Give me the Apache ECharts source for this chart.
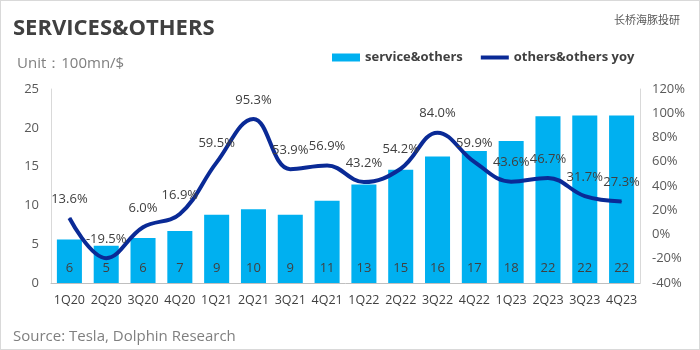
<!DOCTYPE html>
<html>
<head>
<meta charset="utf-8">
<script src="https://cdn.jsdelivr.net/npm/echarts@6/dist/echarts.min.js"></script>
<style>
  html, body { margin: 0; padding: 0; background: #fff; }
  #main { width: 698px; height: 348px; border: 1px solid #d9d9d9; }
</style>
</head>
<body>
<div id="main"></div>
<script>
// quarters
const quarters = ['1Q20', '2Q20', '3Q20', '4Q20', '1Q21', '2Q21', '3Q21', '4Q21',
  '1Q22', '2Q22', '3Q22', '4Q22', '1Q23', '2Q23', '3Q23', '4Q23'];
// service&others revenue, 100mn $
const services = [5.6, 4.8, 5.8, 6.7, 8.8, 9.5, 8.8, 10.6, 12.7, 14.6, 16.3, 17.0, 18.3, 21.5, 21.6, 21.6];
// yoy growth, %
const yoy = [13.6, -19.5, 6.0, 16.9, 59.5, 95.3, 53.9, 56.9, 43.2, 54.2, 84.0, 59.9, 43.6, 46.7, 31.7, 27.3];

const txt = '#404040';
const font = '"Open Sans", "Noto Sans", sans-serif';

const chart = echarts.init(document.getElementById('main'));
const option = {
  textStyle: { fontFamily: font },
  animation: false,
  title: [
    { text: 'SERVICES&OTHERS', left: 7, top: 12,
      textStyle: { fontSize: 22, fontWeight: 'bold', color: txt, fontFamily: font } },
    { text: 'Unit：100mn/$', left: 11, top: 50,
      textStyle: { fontSize: 15, fontWeight: 'normal', color: '#7f7f7f', fontFamily: font } },
    { text: '长桥海豚投研', right: 14, top: 8,
      textStyle: { fontSize: 11, fontWeight: 'normal', color: '#595959', fontFamily: '"Noto Sans CJK SC"' } },
    { text: 'Source: Tesla, Dolphin Research', left: 7, top: 323,
      textStyle: { fontSize: 15, fontWeight: 'normal', color: '#7f7f7f', fontFamily: font } }
  ],
  legend: {
    left: 326, top: 45,
    itemWidth: 28, itemHeight: 8, itemGap: 18,
    textStyle: { fontSize: 13, fontWeight: 'bold', color: txt, fontFamily: font },
    data: [
      { name: 'service&others', icon: 'rect' },
      { name: 'others&others yoy', icon: 'path://M0,0 L28,0 L28,4 L0,4 Z',
        itemStyle: { color: '#0a2a96' } }
    ]
  },
  grid: { left: 50, right: 59, top: 88, bottom: 66 },
  xAxis: {
    type: 'category',
    data: quarters,
    axisLine: { lineStyle: { color: '#bfbfbf' } },
    axisTick: { show: false },
    axisLabel: { color: txt, fontSize: 12.5, margin: 11, interval: 0 }
  },
  yAxis: [
    {
      type: 'value', min: 0, max: 25, interval: 5,
      axisLine: { show: true, lineStyle: { color: '#d9d9d9' } },
      splitLine: { show: false },
      axisLabel: { color: '#595959', fontSize: 13, margin: 12 }
    },
    {
      type: 'value', min: -40, max: 120, interval: 20,
      axisLine: { show: true, lineStyle: { color: '#d9d9d9' } },
      splitLine: { show: false },
      axisLabel: { color: '#595959', fontSize: 13, margin: 12, formatter: '{value}%' }
    }
  ],
  series: [
    {
      name: 'service&others',
      type: 'bar',
      data: services,
      barWidth: '68%',
      itemStyle: { color: '#00b0f0' },
      label: {
        show: true, position: 'insideBottom', distance: 8,
        color: txt, fontSize: 13,
        formatter: p => Math.round(p.value)
      }
    },
    {
      name: 'others&others yoy',
      type: 'line',
      yAxisIndex: 1,
      data: yoy,
      smooth: 0.4,
      symbol: 'circle',
      symbolSize: 1,
      showSymbol: true,
      lineStyle: { color: '#0a2a96', width: 4 },
      itemStyle: { color: '#0a2a96' },
      label: {
        show: true, position: 'top', distance: 12,
        color: txt, fontSize: 13,
        formatter: p => p.value.toFixed(1) + '%'
      },
      labelLayout: { hideOverlap: false },
      z: 3
    }
  ]
};
chart.setOption(option);
</script>
</body>
</html>
